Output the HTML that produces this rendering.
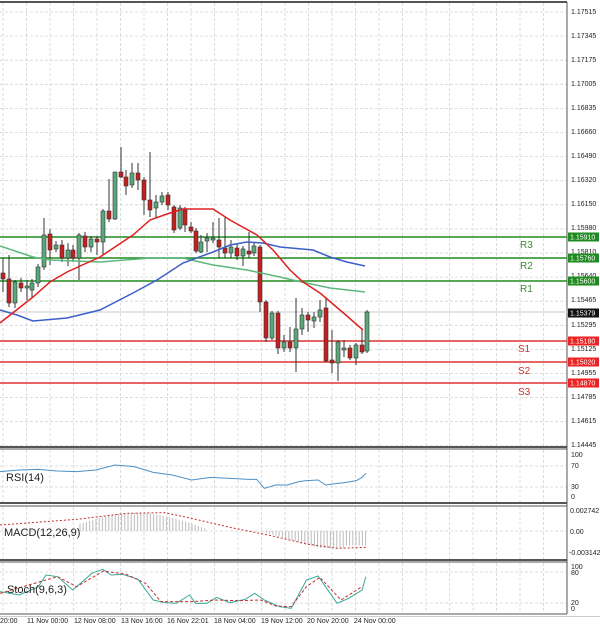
<!DOCTYPE html>
<html><head><meta charset="utf-8"><style>
html,body{margin:0;padding:0;background:#fff;width:600px;height:631px;overflow:hidden}
svg{display:block;font-family:"Liberation Sans",sans-serif}
.ax{font-size:7px;fill:#222}
.lb{font-size:11px;fill:#222}
</style></head><body>
<svg id="s" width="600" height="631" viewBox="0 0 600 631" xmlns="http://www.w3.org/2000/svg">
<rect width="600" height="631" fill="#fff"/>
<g id="grid" stroke="#d4d4d4" stroke-width="0.8" stroke-dasharray="3,2"></g>
<g stroke="#555" fill="none">
<line x1="0" y1="2" x2="567" y2="2" stroke-width="2"/>
<line x1="567" y1="2" x2="567" y2="614" stroke-width="1"/>
<line x1="0" y1="447" x2="567" y2="447" stroke-width="2"/>
<line x1="0" y1="449" x2="567" y2="449" stroke-width="1"/>
<line x1="0" y1="503" x2="567" y2="503" stroke-width="2"/>
<line x1="0" y1="506" x2="567" y2="506" stroke-width="1"/>
<line x1="0" y1="560" x2="567" y2="560" stroke-width="2"/>
<line x1="0" y1="562" x2="567" y2="562" stroke-width="1"/>
<line x1="0" y1="614" x2="567" y2="614" stroke-width="1"/>
</g>
<line x1="0" y1="312" x2="567" y2="312" stroke="#e4e4e4" stroke-width="2"/>
<g id="levels"></g>
<g id="candles"></g>
<g id="ma" fill="none" stroke-width="1.5"></g>
<g id="ind" fill="none"></g>
<g font-size="10" fill="#3a8a3a"><text x="520" y="248">R3</text><text x="520" y="269">R2</text><text x="520" y="292">R1</text></g>
<g font-size="10" fill="#cc3333"><text x="518" y="352">S1</text><text x="518" y="374">S2</text><text x="518" y="395">S3</text></g>
<g class="ax">
<text x="571" y="14">1.17515</text><text x="571" y="38">1.17345</text><text x="571" y="62">1.17175</text>
<text x="571" y="86">1.17005</text><text x="571" y="110">1.16835</text><text x="571" y="134">1.16660</text>
<text x="571" y="158">1.16490</text><text x="571" y="182">1.16320</text><text x="571" y="206">1.16150</text>
<text x="571" y="230">1.15980</text><text x="571" y="254">1.15810</text><text x="571" y="278">1.15640</text>
<text x="571" y="302">1.15465</text><text x="571" y="327">1.15295</text><text x="571" y="351">1.15125</text>
<text x="571" y="375">1.14955</text><text x="571" y="399">1.14785</text><text x="571" y="423">1.14615</text>
<text x="571" y="447">1.14445</text>
<text x="571" y="457">100</text><text x="571" y="468">70</text><text x="571" y="489">30</text><text x="571" y="499">0</text>
<text x="570" y="513">0.002742</text><text x="570" y="534">0.00</text><text x="569" y="555">-0.003142</text>
<text x="571" y="569">100</text><text x="571" y="575">80</text><text x="571" y="605">20</text><text x="571" y="611">0</text>
</g>
<g id="boxes" font-size="7"></g>
<text class="lb" x="6" y="481">RSI(14)</text>
<text class="lb" x="4" y="536">MACD(12,26,9)</text>
<text class="lb" x="7" y="593">Stoch(9,6,3)</text>
<g class="ax">
<text x="0" y="623">20:00</text><text x="27" y="623">11 Nov 00:00</text><text x="74" y="623">12 Nov 08:00</text>
<text x="121" y="623">13 Nov 16:00</text><text x="167" y="623">16 Nov 22:01</text><text x="214" y="623">18 Nov 04:00</text>
<text x="261" y="623">19 Nov 12:00</text><text x="307" y="623">20 Nov 20:00</text><text x="354" y="623">24 Nov 00:00</text>
</g>
<rect x="0" y="616" width="600" height="1" fill="#ccc"/>
</svg>
<script>
var NS="http://www.w3.org/2000/svg";
function el(p,t,a){var e=document.createElementNS(NS,t);for(var k in a)e.setAttribute(k,a[k]);p.appendChild(e);return e;}
var g=document.getElementById('grid');
for(var x=3;x<567;x+=23.5){[[3,446],[450,502],[507,559],[563,613]].forEach(function(r){el(g,'line',{x1:x,y1:r[0],x2:x,y2:r[1]});});}
for(var y=12;y<446;y+=24.1)el(g,'line',{x1:0,y1:y,x2:567,y2:y});
[466,487,531,572,603].forEach(function(y){el(g,'line',{x1:0,y1:y,x2:567,y2:y});});
var lv=document.getElementById('levels');
[[237,'#1f8a1f'],[258,'#1f8a1f'],[281,'#1f8a1f'],[341,'#dd3333'],[362,'#dd3333'],[383,'#dd3333']].forEach(function(l){el(lv,'line',{x1:0,y1:l[0],x2:567,y2:l[0],stroke:l[1],'stroke-width':1.6});});
var bx=document.getElementById('boxes');
[[237,'#1f8a1f','1.15910'],[258,'#1f8a1f','1.15760'],[281,'#1f8a1f','1.15600'],[313,'#111','1.15379'],[341,'#ee2222','1.15180'],[362,'#ee2222','1.15020'],[383,'#ee2222','1.14870']].forEach(function(b){el(bx,'rect',{x:568,y:b[0]-4.5,width:31,height:9,fill:b[1]});var t=el(bx,'text',{x:570,y:b[0]+2.5,fill:'#fff'});t.textContent=b[2];});
var C=[[3,273,279,258,292,'r'],[9,279,303,255,307,'r'],[15,282,303,280,308,'g'],[21,283,288,278,292,'r'],[27,286,288,280,300,'g'],[32,283,290,279,298,'g'],[38,267,283,264,287,'g'],[44,235,267,218,270,'g'],[50,234,250,229,265,'r'],[56,245,249,241,252,'g'],[62,245,258,240,262,'r'],[68,250,258,243,266,'g'],[73,250,258,245,262,'r'],[79,235,258,233,280,'g'],[85,236,247,232,252,'r'],[91,239,247,236,252,'g'],[97,239,242,236,255,'r'],[103,211,242,209,255,'g'],[109,211,219,179,222,'r'],[115,172,219,172,220,'g'],[121,172,177,147,178,'r'],[126,177,186,170,195,'r'],[132,173,185,163,188,'g'],[138,173,180,163,190,'r'],[144,180,200,177,215,'r'],[150,200,210,152,217,'r'],[156,202,208,195,218,'g'],[162,196,202,192,205,'g'],[168,195,205,192,210,'r'],[174,207,230,205,233,'r'],[180,208,228,205,230,'g'],[185,210,225,207,232,'r'],[191,227,231,222,233,'r'],[196,231,251,228,253,'r'],[201,242,252,235,253,'g'],[207,238,241,233,252,'g'],[213,238,240,222,243,'g'],[219,240,247,218,258,'r'],[225,248,253,217,258,'r'],[231,247,253,240,258,'g'],[237,248,256,243,260,'r'],[243,249,256,246,266,'g'],[249,251,254,232,258,'r'],[254,246,253,242,256,'g'],[260,247,302,245,312,'r'],[266,302,338,300,342,'r'],[272,313,338,311,340,'g'],[278,313,348,311,354,'r'],[284,342,348,335,352,'g'],[290,342,348,327,352,'r'],[296,329,348,298,372,'g'],[302,315,329,308,335,'g'],[308,315,320,312,332,'r'],[314,317,321,312,328,'g'],[320,310,317,300,322,'g'],[326,308,361,297,362,'r'],[332,360,363,330,373,'r'],[338,342,363,340,381,'g'],[344,348,350,340,357,'g'],[350,348,358,345,360,'r'],[356,345,358,343,365,'g'],[362,345,352,330,354,'r'],[367,312,351,310,353,'g']];
var cg=document.getElementById('candles');
C.forEach(function(c){el(cg,'line',{x1:c[0],y1:c[3],x2:c[0],y2:c[4],stroke:'#333','stroke-width':1});
el(cg,'rect',{x:c[0]-2,y:c[1],width:4,height:Math.max(1,c[2]-c[1]),fill:c[5]=='g'?'#5aa87a':'#c42020',stroke:'#333','stroke-width':0.6});});
function pl(p,pts,st,w,da){var a={points:pts.map(function(q){return q.join(',');}).join(' '),stroke:st,'stroke-width':w,fill:'none'};if(da)a['stroke-dasharray']=da;return el(p,'polyline',a);}
var ma=document.getElementById('ma');
pl(ma,[[0,246],[33,257],[50,260],[100,262],[150,258],[183,258],[213,265],[247,270],[280,277],[297,281],[330,288],[365,292]],'#5cb87c',1.5);
pl(ma,[[0,310],[17,315],[33,321],[67,318],[100,310],[133,293],[157,280],[183,263],[213,252],[230,245],[247,242],[263,243],[280,247],[313,250],[330,257],[347,262],[365,266]],'#3a5fc8',1.5);
pl(ma,[[0,323],[33,297],[50,282],[67,272],[100,257],[133,235],[150,220],[167,214],[183,209],[213,209],[230,220],[257,235],[273,250],[290,270],[303,282],[320,293],[340,310],[363,330]],'#e02020',1.5);
var ind=document.getElementById('ind');
function sx(a){return a.map(function(q){return [q[0]/2.61,440+q[1]/3];});}
pl(ind,sx([[0,95],[50,90],[100,88],[150,93],[200,95],[250,90],[300,75],[350,80],[400,97],[450,105],[500,120],[550,112],[600,115],[650,118],[670,118],[690,145],[720,135],[750,135],[780,125],[800,122],[830,120],[850,135],[880,130],[900,128],[930,122],[945,112],[955,100]]),'#4a90c8',1);
for(var hx=80;hx<=207;hx+=3.2){var tt=(hx-80)/127;var ytop=531-(Math.sin(Math.PI*Math.min(1,tt*0.9+0.1))*16+2);el(ind,'line',{x1:hx,y1:531,x2:hx,y2:ytop,stroke:'#bbb','stroke-width':1});}
for(var hx2=260;hx2<=366;hx2+=3.2){var t2=(hx2-260)/106;var yb=531+Math.min(17,t2*30)*(t2>0.8?0.85:1);el(ind,'line',{x1:hx2,y1:531,x2:hx2,y2:yb,stroke:'#bbb','stroke-width':1});}
pl(ind,sx([[0,255],[200,238],[330,220],[430,218],[500,235],[600,262],[700,285],[800,312],[880,325],[955,322]]),'#c03030',1,'2,2');
pl(ind,sx([[0,455],[50,465],[100,440],[120,405],[150,410],[190,450],[240,400],[268,388],[290,405],[320,403],[360,418],[400,480],[430,488],[460,490],[495,465],[510,490],[540,490],[565,472],[600,488],[640,478],[665,460],[690,480],[730,500],[760,505],[800,420],[830,408],[880,490],[910,475],[945,450],[955,410]]),'#3aa89a',1);
pl(ind,sx([[0,460],[120,420],[150,410],[200,440],[270,393],[330,403],[380,430],[420,485],[500,485],[560,480],[620,482],[680,480],[720,498],[760,500],[800,440],[835,412],[890,480],[945,440]]),'#c03030',1,'3,2');
</script>
</body></html>
